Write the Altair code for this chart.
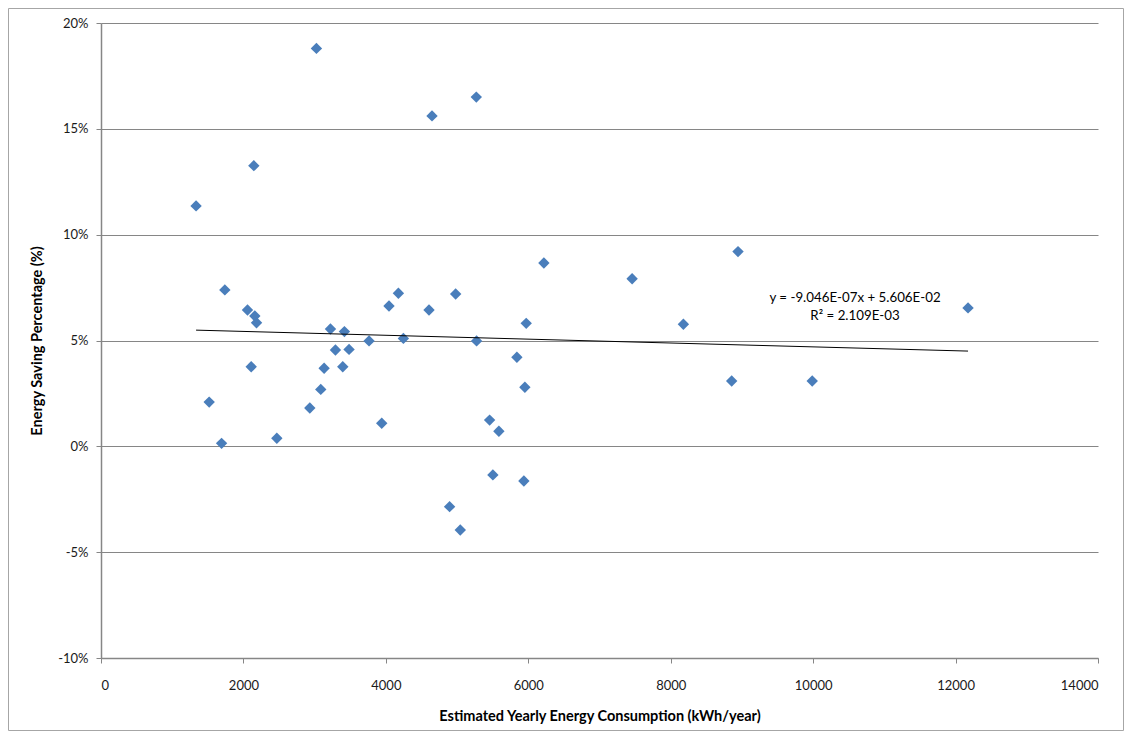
import altair as alt
import pandas as pd

# ---- data ----
consumption = [1335, 1519, 1693, 1739, 2057, 2109, 2146, 2160, 2184, 2469,
               2932, 3025, 3086, 3133, 3222, 3292, 3395, 3418, 3483, 3764,
               3942, 4044, 4176, 4246, 4606, 4648, 4895, 4980, 5045, 5270,
               5274, 5457, 5503, 5587, 5840, 5938, 5952, 5971, 6219, 7458,
               8178, 8856, 8945, 9987, 12175]
saving_pct = [11.36, 2.09, 0.14, 7.39, 6.44, 3.76, 13.26, 6.16, 5.84, 0.38,
              1.81, 18.80, 2.69, 3.69, 5.54, 4.55, 3.76, 5.42, 4.58, 4.98,
              1.09, 6.63, 7.23, 5.10, 6.44, 15.61, -2.85, 7.20, -3.95, 16.50,
              4.98, 1.24, -1.35, 0.71, 4.21, -1.64, 2.79, 5.81, 8.66, 7.92,
              5.77, 3.09, 9.20, 3.09, 6.54]
trend_x = [1335, 12175]
trend_y = [5.49, 4.50]
x_ticks = [0, 2000, 4000, 6000, 8000, 10000, 12000, 14000]
y_ticks = [-10, -5, 0, 5, 10, 15, 20]
equation_lines = ["y = -9.046E-07x + 5.606E-02", "R\u00b2 = 2.109E-03"]

# ---- layout / style ----
W, H = 997, 635
PAD = {"left": 93, "top": 15, "right": 26, "bottom": 73}
FONT = "Lato"
GRAY = "#868686"
BLUE = "#4a7ebb"
EQ_X = 10588
EQ_Y = [7.03, 6.18]

pts = pd.DataFrame({"x": consumption, "y": saving_pct})
trend = pd.DataFrame({"x": trend_x, "y": trend_y})
eq = pd.DataFrame({"label": equation_lines, "x": [EQ_X] * 2, "y": EQ_Y})

xscale = alt.Scale(domain=[0, 14000], nice=False, zero=False)
yscale = alt.Scale(domain=[-10, 20], nice=False, zero=False)

x_axis = alt.Axis(
    values=x_ticks, format="d", grid=False,
    title="Estimated Yearly Energy Consumption (kWh/year)",
    titleX=W / 2, titleY=58, titleAlign="center", titleBaseline="middle",
    titleFont=FONT, titleFontSize=14.5, titleFontWeight="bold", titleColor="#000000",
    labelFont=FONT, labelFontSize=13, labelColor="#1a1a1a", labelPadding=16,
    tickSize=5, tickColor=GRAY, domainColor=GRAY, domainWidth=1.5,
)
y_axis = alt.Axis(
    values=y_ticks, labelExpr="datum.value + '%'", grid=True,
    gridColor=GRAY, gridWidth=1,
    title="Energy Saving  Percentage (%)",
    titleX=-64, titleY=H / 2, titleAngle=270, titleAlign="center", titleBaseline="middle",
    titleFont=FONT, titleFontSize=14.5, titleFontWeight="bold", titleColor="#000000",
    labelFont=FONT, labelFontSize=13, labelColor="#1a1a1a", labelPadding=8,
    tickSize=5, tickColor=GRAY, domainColor=GRAY, domainWidth=1.5,
)

frame = alt.Chart(pd.DataFrame({"a": [0]})).mark_rect(
    fill=None, stroke="#a6a6a6", strokeWidth=1
).encode(
    x=alt.value(-PAD["left"] + 0.5),
    x2=alt.value(W + PAD["right"] - 0.5),
    y=alt.value(-PAD["top"] + 0.5),
    y2=alt.value(H + PAD["bottom"] - 0.5),
)

points = alt.Chart(pts).mark_point(
    shape="diamond", filled=True, size=130, color=BLUE, opacity=1, strokeWidth=0
).encode(
    x=alt.X("x:Q", scale=xscale, axis=x_axis),
    y=alt.Y("y:Q", scale=yscale, axis=y_axis),
)

trendline = alt.Chart(trend).mark_line(color="#000000", strokeWidth=1).encode(
    x=alt.X("x:Q", scale=xscale),
    y=alt.Y("y:Q", scale=yscale),
)

eq_text = alt.Chart(eq).mark_text(
    font=FONT, fontSize=13.3, color="#000000", align="center", baseline="middle"
).encode(
    x=alt.X("x:Q", scale=xscale),
    y=alt.Y("y:Q", scale=yscale),
    text="label:N",
)

chart = alt.layer(frame, points, trendline, eq_text).properties(
    width=W, height=H,
    autosize=alt.AutoSizeParams(type="none"),
    padding=PAD,
    background="#ffffff",
).configure_view(stroke=None)

chart.save("out.html", embed_options={"renderer": "svg", "actions": False})
